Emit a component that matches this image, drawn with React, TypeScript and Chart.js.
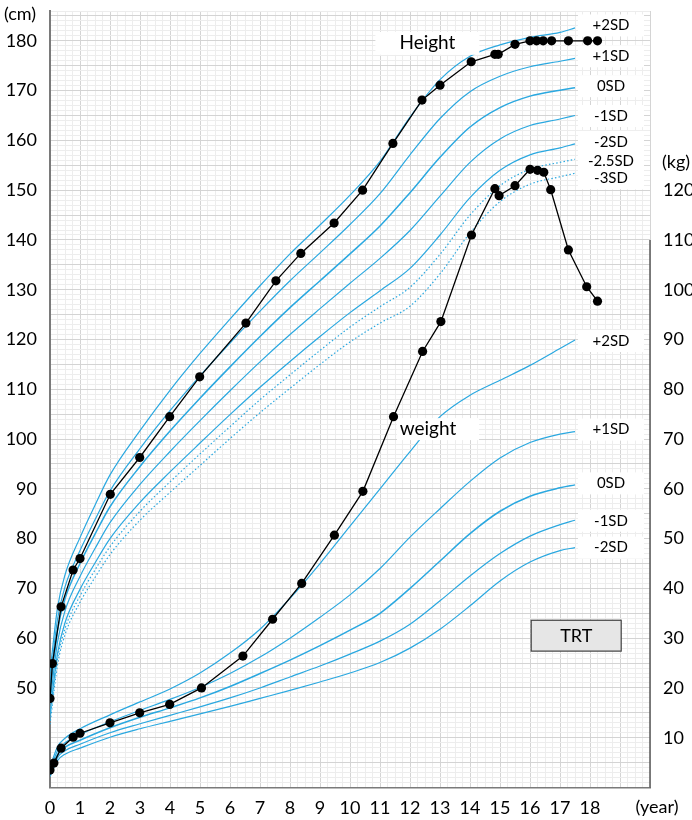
import React, { useEffect, useRef } from 'react';
import { Chart, registerables } from 'chart.js';

Chart.register(...registerables);

// ---------- axis tick labels ----------
const yearTicks = [0, 1, 2, 3, 4, 5, 6, 7, 8, 9, 10, 11, 12, 13, 14, 15, 16, 17, 18];
const heightTicks = [50, 60, 70, 80, 90, 100, 110, 120, 130, 140, 150, 160, 170, 180];
const weightTicks = [10, 20, 30, 40, 50, 60, 70, 80, 90, 100, 110, 120];

// ---------- reference height curves (cm) ----------
const heightAges = [0, 0.25, 0.5, 1, 1.5, 2, 3, 4, 5, 6, 7, 8, 9, 10, 11, 12, 13, 14, 15, 16, 17, 17.5];
const heightP2 = [53.2, 66.1, 72.7, 80.2, 86.7, 92.8, 101.7, 109.8, 117.2, 124.1, 130.8, 137.2, 143.0, 149.0, 155.8, 164.7, 172.2, 176.9, 179.2, 180.7, 181.7, 182.6];
const heightP1 = [51.1, 63.8, 70.3, 77.6, 83.8, 89.6, 98.1, 105.7, 112.7, 119.3, 125.7, 131.8, 137.4, 143.1, 149.3, 157.1, 164.4, 169.8, 172.9, 174.8, 175.9, 176.5];
const heightM0 = [49.0, 61.5, 67.9, 75.0, 80.9, 86.4, 94.5, 101.6, 108.2, 114.5, 120.6, 126.4, 131.8, 137.2, 142.8, 149.5, 156.6, 162.7, 166.6, 168.9, 170.1, 170.6];
const heightM1 = [46.9, 59.2, 65.5, 72.4, 78.0, 83.2, 90.9, 97.5, 103.7, 109.7, 115.5, 121.0, 126.2, 131.3, 136.3, 141.9, 148.8, 155.6, 160.3, 163.0, 164.3, 165.0];
const heightM2 = [44.8, 56.9, 63.1, 69.8, 75.1, 80.0, 87.3, 93.4, 99.2, 104.9, 110.4, 115.6, 120.6, 125.4, 129.8, 134.3, 141.0, 148.5, 154.0, 157.1, 158.5, 159.3];
const heightM25 = [43.8, 55.8, 61.9, 68.5, 73.7, 78.4, 85.5, 91.4, 97.0, 102.5, 107.9, 112.9, 117.8, 122.5, 126.6, 130.5, 137.1, 145.0, 150.9, 154.2, 155.6, 156.2];
const heightM3 = [42.7, 54.6, 60.7, 67.2, 72.2, 76.8, 83.7, 89.3, 94.7, 100.1, 105.3, 110.2, 115.0, 119.5, 123.3, 126.7, 133.2, 141.4, 147.7, 151.2, 152.7, 153.4];
const heightCurveNames = ['+2SD', '+1SD', '0SD', '-1SD', '-2SD', '-2.5SD', '-3SD'];
const heightNameY = [183.1, 176.9, 170.9, 164.9, 159.7, 155.9, 152.4];

// ---------- reference weight curves (kg) ----------
const weightAges = [0, 0.25, 0.5, 1, 2, 3, 4, 5, 6, 7, 8, 9, 10, 11, 12, 13, 14, 15, 16, 17, 17.5];
const weightP2 = [4.0, 8.2, 9.9, 11.8, 14.6, 17.2, 19.8, 23.0, 27.0, 31.8, 38.0, 45.0, 52.5, 60.0, 67.5, 74.5, 78.8, 81.8, 84.8, 88.2, 89.9];
const weightP1 = [3.5, 7.4, 9.0, 10.6, 13.2, 15.5, 17.7, 20.1, 22.9, 26.2, 30.0, 34.2, 38.7, 44.0, 50.3, 56.0, 61.5, 66.2, 69.3, 71.0, 71.5];
const weightM0 = [3.0, 6.6, 8.1, 9.5, 12.0, 14.1, 16.0, 18.0, 20.3, 22.9, 25.6, 28.5, 31.6, 35.0, 40.0, 45.5, 51.0, 55.5, 58.5, 60.2, 60.8];
const weightM1 = [2.6, 6.0, 7.4, 8.7, 11.0, 12.8, 14.5, 16.2, 18.0, 20.0, 22.2, 24.4, 26.8, 29.4, 32.8, 37.5, 42.5, 47.0, 50.5, 52.8, 53.7];
const weightM2 = [2.2, 5.4, 6.7, 7.9, 10.1, 11.8, 13.3, 14.8, 16.3, 17.9, 19.5, 21.2, 23.0, 25.1, 28.0, 31.8, 36.5, 41.5, 45.3, 47.6, 48.2];
const weightCurveNames = ['+2SD', '+1SD', '0SD', '-1SD', '-2SD'];
const weightNameY = [89.7, 71.9, 61.1, 53.6, 48.2];

// ---------- patient ----------
const patientHeightAges = [0, 0.08, 0.37, 0.77, 1.0, 2.01, 2.99, 3.99, 4.99, 6.53, 7.53, 8.36, 9.47, 10.42, 11.43, 12.4, 13.0, 14.04, 14.83, 14.94, 15.5, 16.0, 16.22, 16.44, 16.72, 17.28, 17.92, 18.25];
const patientHeight = [47.9, 54.9, 66.3, 73.7, 76.0, 88.9, 96.3, 104.5, 112.5, 123.3, 131.8, 137.3, 143.4, 150.0, 159.4, 168.1, 171.1, 175.8, 177.3, 177.3, 179.3, 180.0, 180.0, 180.0, 180.0, 180.0, 180.0, 180.0];
const patientWeightAges = [0, 0.13, 0.37, 0.77, 1.0, 2.0, 2.99, 3.99, 5.05, 6.43, 7.42, 8.39, 9.48, 10.43, 11.45, 12.42, 13.03, 14.05, 14.83, 14.97, 15.5, 16.0, 16.25, 16.46, 16.69, 17.28, 17.89, 18.25];
const patientWeight = [3.5, 4.9, 7.9, 10.1, 10.9, 13.0, 15.0, 16.7, 20.0, 26.4, 33.8, 41.0, 50.7, 59.5, 74.5, 87.6, 93.6, 111.0, 120.3, 118.9, 120.9, 124.2, 124.0, 123.6, 120.1, 108.0, 100.6, 97.7];

// ---------- text ----------
const heightTitle = 'Height';
const weightTitle = 'weight';
const boxText = 'TRT';

const FONT = 'Lato, "Open Sans", sans-serif';
const BLUE = '#2aa8e0';

const pts = (xs: number[], ys: number[]) => xs.map((x, i) => ({ x, y: ys[i] }));

export default function App() {
  const ref = useRef<HTMLCanvasElement>(null);

  useEffect(() => {
    if (!ref.current) return;
    const hCurves = [heightP2, heightP1, heightM0, heightM1, heightM2, heightM25, heightM3];
    const wCurves = [weightP2, weightP1, weightM0, weightM1, weightM2];
    const datasets: any[] = [];
    hCurves.forEach((c, i) => {
      datasets.push({
        label: 'H ' + heightCurveNames[i],
        data: pts(heightAges, c),
        yAxisID: 'yH',
        borderColor: BLUE,
        borderWidth: i === 2 ? 1.5 : 1.2,
        borderDash: i >= 5 ? [1.5, 2.2] : [],
        pointRadius: 0,
        cubicInterpolationMode: 'monotone',
        order: 2,
      });
    });
    wCurves.forEach((c, i) => {
      datasets.push({
        label: 'W ' + weightCurveNames[i],
        data: pts(weightAges, c),
        yAxisID: 'yW',
        borderColor: BLUE,
        borderWidth: i === 2 ? 1.5 : 1.2,
        pointRadius: 0,
        cubicInterpolationMode: 'monotone',
        order: 2,
      });
    });
    const patientHIndex = datasets.length;
    datasets.push({
      label: 'Height',
      data: pts(patientHeightAges, patientHeight),
      yAxisID: 'yH',
      borderColor: '#000',
      borderWidth: 1.3,
      pointRadius: 4.6,
      pointBackgroundColor: '#000',
      pointBorderWidth: 0,
      order: 1,
    });
    datasets.push({
      label: 'weight',
      data: pts(patientWeightAges, patientWeight),
      yAxisID: 'yW',
      borderColor: '#000',
      borderWidth: 1.3,
      pointRadius: 4.6,
      pointBackgroundColor: '#000',
      pointBorderWidth: 0,
      order: 0,
    });

    const boxLabel = (ctx: CanvasRenderingContext2D, text: string, cx: number, cy: number, font: string, w: number, h: number, dx = 0) => {
      ctx.font = font;
      ctx.fillStyle = '#fff';
      ctx.fillRect(cx - w / 2 + dx, cy - h / 2, w, h);
      ctx.fillStyle = '#000';
      ctx.textAlign = 'center';
      ctx.textBaseline = 'middle';
      ctx.fillText(text, cx, cy);
    };

    const annot = {
      id: 'annot',
      beforeDatasetDraw(chart: any, args: any) {
        if (args.index !== patientHIndex) return;
        const ctx = chart.ctx as CanvasRenderingContext2D;
        const xs = chart.scales.x, yH = chart.scales.yH, yW = chart.scales.yW;
        ctx.save();
        const lx = xs.getPixelForValue(18.7);
        heightCurveNames.forEach((n, i) => {
          boxLabel(ctx, n, lx, yH.getPixelForValue(heightNameY[i]), '15px ' + FONT, 66, 22);
        });
        weightCurveNames.forEach((n, i) => {
          boxLabel(ctx, n, lx, yW.getPixelForValue(weightNameY[i]), '15px ' + FONT, 66, 22);
        });
        boxLabel(ctx, heightTitle, xs.getPixelForValue(12.58), yH.getPixelForValue(179.5), '19px ' + FONT, 104, 23);
        boxLabel(ctx, weightTitle, xs.getPixelForValue(12.6), yW.getPixelForValue(72.0), '19px ' + FONT, 82, 22, 10);
        ctx.restore();
      },
      afterDraw(chart: any) {
        const ctx = chart.ctx as CanvasRenderingContext2D;
        const xs = chart.scales.x, yW = chart.scales.yW;
        const area = chart.chartArea;
        ctx.save();
        // right weight axis line (0 - 110 kg)
        ctx.strokeStyle = '#595959';
        ctx.lineWidth = 1.5;
        ctx.beginPath();
        ctx.moveTo(area.right, yW.getPixelForValue(110));
        ctx.lineTo(area.right, yW.getPixelForValue(0));
        ctx.stroke();
        // TRT box
        const bx0 = xs.getPixelForValue(16.04), bx1 = xs.getPixelForValue(19.04);
        const by0 = yW.getPixelForValue(33.6), by1 = yW.getPixelForValue(27.4);
        ctx.fillStyle = '#e6e6e6';
        ctx.fillRect(bx0, by0, bx1 - bx0, by1 - by0);
        ctx.strokeStyle = '#404040';
        ctx.lineWidth = 1.2;
        ctx.strokeRect(bx0, by0, bx1 - bx0, by1 - by0);
        ctx.fillStyle = '#000';
        ctx.font = '18px ' + FONT;
        ctx.textAlign = 'center';
        ctx.textBaseline = 'middle';
        ctx.fillText(boxText, (bx0 + bx1) / 2, (by0 + by1) / 2 + 1);
        // unit labels
        ctx.fillText('(cm)', 20, 14);
        ctx.fillText('(kg)', 676, 162);
        ctx.fillText('(year)', 657, 807);
        ctx.restore();
      },
    };

    const gridColorX = (v: number) => (Number.isInteger(v) ? '#d4d4d4' : '#ededed');
    const gridColorY = (v: number) => (v % 5 === 0 ? '#d4d4d4' : '#ededed');
    const noPadY = (s: any, w: number) => { s.width = w; s.paddingTop = 0; s.paddingBottom = 0; };

    const chart = new Chart(ref.current, {
      type: 'line',
      data: { datasets },
      plugins: [annot],
      options: {
        animation: false,
        responsive: true,
        maintainAspectRatio: false,
        devicePixelRatio: 1,
        events: [],
        layout: { padding: { top: 11, left: 0, right: 0, bottom: 0 } },
        plugins: { legend: { display: false }, tooltip: { enabled: false } },
        font: { family: FONT },
        scales: {
          x: {
            type: 'linear',
            min: 0,
            max: 20,
            afterFit: (s: any) => { s.height = 32.5; s.paddingLeft = 0; s.paddingRight = 0; },
            grid: { color: (c: any) => gridColorX(c.tick.value), lineWidth: 1, drawTicks: false },
            border: { display: true, color: '#7a7a7a', width: 1.5 },
            ticks: {
              stepSize: 0.25,
              autoSkip: false,
              maxRotation: 0,
              padding: 10,
              color: '#000',
              font: { family: FONT, size: 18 },
              callback: (v: any) => (yearTicks.includes(v) ? String(v) : ''),
            },
          },
          yH: {
            type: 'linear',
            position: 'left',
            min: 30,
            max: 186,
            afterFit: (s: any) => noPadY(s, 50),
            grid: { color: (c: any) => gridColorY(c.tick.value), lineWidth: 1, drawTicks: false },
            border: { display: true, color: '#7a7a7a', width: 2 },
            ticks: {
              stepSize: 1,
              autoSkip: false,
              padding: 13,
              color: '#000',
              font: { family: FONT, size: 18 },
              callback: (v: any) => (heightTicks.includes(v) ? String(v) : ''),
            },
          },
          yW: {
            type: 'linear',
            position: 'right',
            min: 0,
            max: 156,
            afterFit: (s: any) => noPadY(s, 42),
            grid: { display: false, drawTicks: false },
            border: { display: false },
            ticks: {
              stepSize: 10,
              autoSkip: false,
              padding: 13,
              color: '#000',
              font: { family: FONT, size: 18 },
              callback: (v: any) => (weightTicks.includes(v) ? String(v) : ''),
            },
          },
        },
      } as any,
    });
    return () => chart.destroy();
  }, []);

  return (
    <div style={{ position: 'absolute', left: 0, top: 0, width: 692, height: 820, background: '#fff' }}>
      <canvas ref={ref} />
    </div>
  );
}
